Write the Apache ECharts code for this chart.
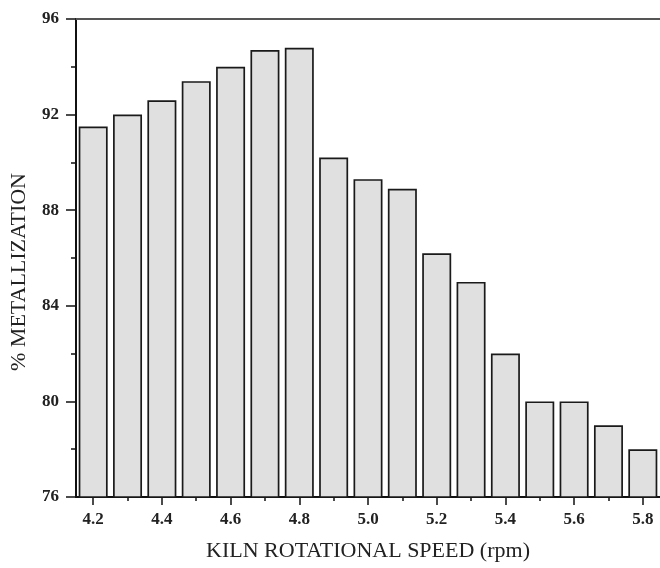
<!DOCTYPE html>
<html>
<head>
<meta charset="utf-8">
<script src="https://cdn.jsdelivr.net/npm/echarts@6/dist/echarts.min.js"></script>
<style>
html,body{margin:0;padding:0;background:#fff;}
#chart{width:660px;height:568px;}
</style>
</head>
<body>
<div id="chart"></div>
<script>
var speeds = ['4.2','4.3','4.4','4.5','4.6','4.7','4.8','4.9','5.0','5.1','5.2','5.3','5.4','5.5','5.6','5.7','5.8'];
var metallization = [91.5, 92.0, 92.6, 93.4, 94.0, 94.7, 94.8, 90.2, 89.3, 88.9, 86.2, 85.0, 82.0, 80.0, 80.0, 79.0, 78.0];
var yTicks = [76, 80, 84, 88, 92, 96];

var serif = '"Liberation Serif", "Times New Roman", serif';
var chart = echarts.init(document.getElementById('chart'), null, {renderer: 'canvas'});
chart.setOption({
  animation: false,
  backgroundColor: '#fff',
  grid: {left: 76, top: 19, width: 586, height: 478, containLabel: false},
  xAxis: [
    {
      type: 'category', data: speeds, position: 'bottom', boundaryGap: true,
      name: 'KILN ROTATIONAL SPEED (rpm)', nameLocation: 'middle', nameGap: 43,
      nameTextStyle: {fontFamily: serif, fontSize: 22, color: '#222'},
      axisLine: {show: true, lineStyle: {color: '#111', width: 2}},
      axisTick: {show: true, alignWithLabel: true, interval: 1, length: 8, lineStyle: {color: '#111', width: 1.5}},
      axisLabel: {show: true, interval: 1, margin: 14, fontFamily: serif, fontSize: 17, fontWeight: 'bold', color: '#222'},
      splitLine: {show: false}
    },
    {
      type: 'category', data: speeds, position: 'bottom', boundaryGap: true,
      axisLine: {show: false},
      axisTick: {show: true, alignWithLabel: true, interval: 0, length: 4, lineStyle: {color: '#111', width: 1.5}},
      axisLabel: {show: false},
      splitLine: {show: false}
    },
    {
      type: 'category', data: speeds, position: 'top', boundaryGap: true,
      axisLine: {show: true, lineStyle: {color: '#555', width: 1.8}},
      axisTick: {show: false},
      axisLabel: {show: false},
      splitLine: {show: false}
    }
  ],
  yAxis: {
    type: 'value', min: yTicks[0], max: yTicks[yTicks.length - 1], interval: 4,
    name: '% METALLIZATION', nameLocation: 'middle', nameGap: 46, nameRotate: 90,
    nameTextStyle: {fontFamily: serif, fontSize: 22, color: '#222', padding: [0, 28, 0, 0]},
    axisLine: {show: true, lineStyle: {color: '#111', width: 2}},
    axisTick: {show: true, length: 10, lineStyle: {color: '#111', width: 1.5}},
    minorTick: {show: true, splitNumber: 2, length: 5, lineStyle: {color: '#111', width: 1.5}},
    axisLabel: {margin: 17, fontFamily: serif, fontSize: 17, fontWeight: 'bold', color: '#222'},
    splitLine: {show: false},
    minorSplitLine: {show: false}
  },
  series: [{
    type: 'bar', xAxisIndex: 0, data: metallization, barWidth: 29,
    itemStyle: {color: '#e0e0e0', borderColor: '#1a1a1a', borderWidth: 1.7}
  }]
});
</script>
</body>
</html>
